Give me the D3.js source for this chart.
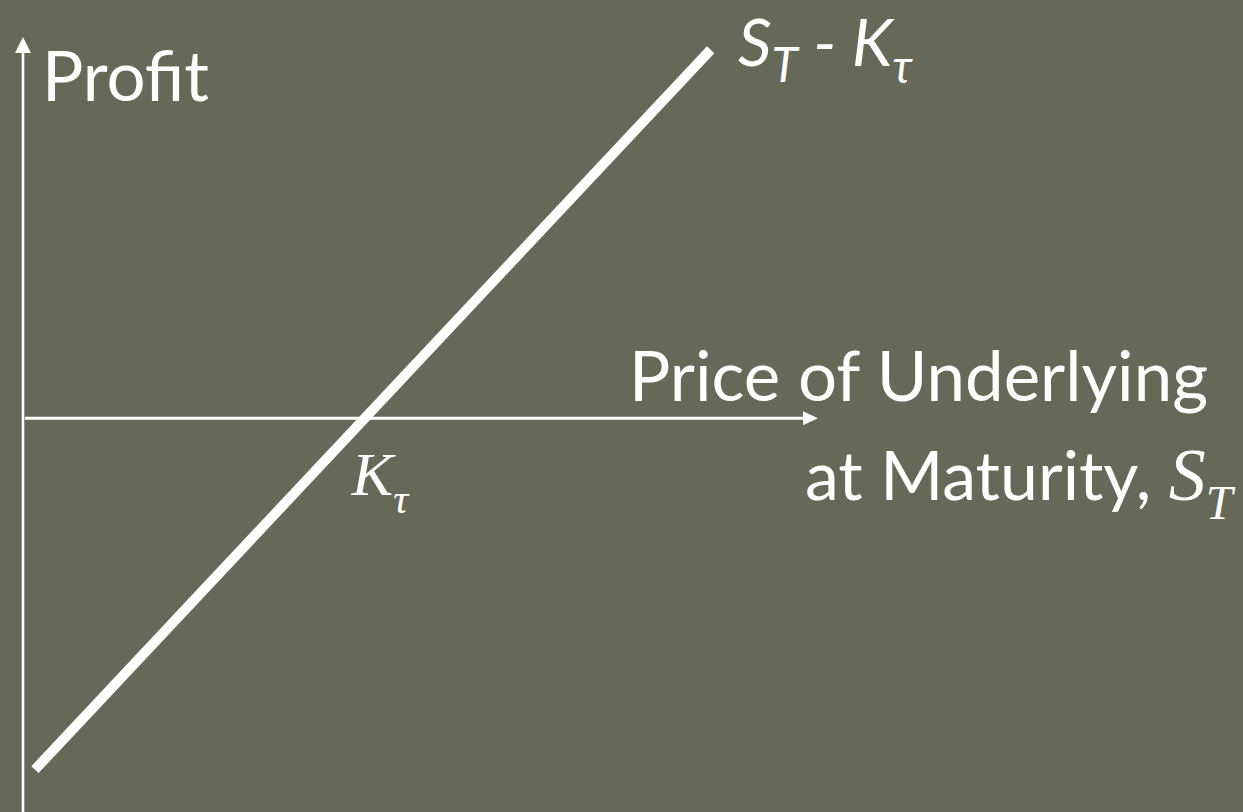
<!DOCTYPE html>
<html>
<head>
<meta charset="utf-8">
<script src="https://cdn.jsdelivr.net/npm/d3@7"></script>
<style>
  html, body { margin: 0; padding: 0; background: #666858; }
  svg { display: block; }
</style>
</head>
<body>
<svg id="chart" width="1243" height="812"></svg>
<script>
// Long position payoff at maturity: profit = S_T - K
const strike = 43;
const priceDomain = [0, 100];
const profitDomain = [-46.5, 45];
const payoffPrices = [1.5, 86.5];
const payoffProfits = [-41.5, 43.5];

const W = 1243, H = 812;
const bg = "#666858";
const ink = "#ffffff";
const sans = "Lato, 'Open Sans', sans-serif";
const serif = "'Liberation Serif', 'DejaVu Serif', serif";

const svg = d3.select("#chart");
svg.append("rect").attr("width", W).attr("height", H).attr("fill", bg);

const x = d3.scaleLinear().domain(priceDomain).range([23, 818]);
const y = d3.scaleLinear().domain(profitDomain).range([812, 37]);

// Axes with arrowheads
const x0 = x(0), y0 = y(0);
const yTop = y(profitDomain[1]), xEnd = x(priceDomain[1]);
svg.append("line")
  .attr("x1", x0).attr("x2", x0)
  .attr("y1", y(profitDomain[0])).attr("y2", yTop + 12)
  .attr("stroke", ink).attr("stroke-width", 2.6);
svg.append("path")
  .attr("d", `M${x0},${yTop} L${x0 - 8},${yTop + 16} L${x0 + 8},${yTop + 16} Z`)
  .attr("fill", ink);

svg.append("line")
  .attr("x1", x0 + 2).attr("x2", xEnd - 12)
  .attr("y1", y0).attr("y2", y0)
  .attr("stroke", ink).attr("stroke-width", 3);
svg.append("path")
  .attr("d", `M${xEnd},${y0} L${xEnd - 15},${y0 - 7} L${xEnd - 15},${y0 + 7} Z`)
  .attr("fill", ink);

// Payoff line
const pts = payoffPrices.map((s, i) => [s, payoffProfits[i]]);
svg.append("path")
  .datum(pts)
  .attr("d", d3.line().x(d => x(d[0])).y(d => y(d[1])))
  .attr("fill", "none")
  .attr("stroke", ink)
  .attr("stroke-width", 10)
  .attr("stroke-linecap", "butt");

// Axis titles
svg.append("text")
  .attr("x", 42).attr("y", 101)
  .attr("font-family", sans).attr("font-size", 69)
  .attr("fill", ink)
  .text("Profit");

svg.append("text")
  .attr("x", 629).attr("y", 401)
  .attr("font-family", sans).attr("font-size", 69)
  .attr("fill", ink)
  .text("Price of Underlying");

const t2 = svg.append("text")
  .attr("x", 805).attr("y", 500)
  .attr("font-family", sans).attr("font-size", 68)
  .attr("fill", ink);
t2.append("tspan").text("at Maturity, ");
t2.append("tspan").attr("font-family", serif).attr("font-style", "italic").attr("font-size", 74).text("S");
t2.append("tspan").attr("font-family", serif).attr("font-style", "italic").attr("font-size", 48).attr("dy", 19).text("T");

// Strike label
const k = svg.append("text")
  .attr("x", x(strike) - 13).attr("y", 495)
  .attr("font-family", serif).attr("font-style", "italic").attr("font-size", 62)
  .attr("fill", ink);
k.append("tspan").text("K");
k.append("tspan").attr("font-size", 42).attr("dy", 18).text("τ");

// Payoff label
const p = svg.append("text")
  .attr("x", 738).attr("y", 66)
  .attr("font-family", sans).attr("font-style", "italic").attr("font-size", 66)
  .attr("fill", ink);
p.append("tspan").text("S");
p.append("tspan").attr("font-size", 48).attr("dy", 16).text("T");
p.append("tspan").attr("font-size", 66).attr("dy", -16).text(" - K");
p.append("tspan").attr("font-size", 46).attr("dy", 17).text("τ");
</script>
</body>
</html>
